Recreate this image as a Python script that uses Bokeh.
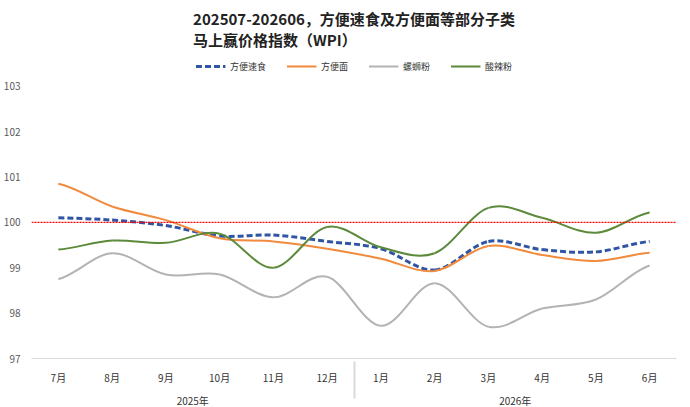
from bokeh.plotting import figure
from bokeh.models import FactorRange, Range1d, Span, Legend, LegendItem, FixedTicker
from bokeh.embed import file_html
from bokeh.resources import INLINE

years = ["2025年"]*6 + ["2026年"]*6
months = ["7月","8月","9月","10月","11月","12月","1月","2月","3月","4月","5月","6月"]
s_fbss = [100.1, 100.05, 99.93, 99.7, 99.72, 99.58, 99.42, 98.95, 99.58, 99.4, 99.35, 99.58]
s_fbm = [100.85, 100.35, 100.05, 99.65, 99.58, 99.42, 99.2, 98.93, 99.48, 99.28, 99.15, 99.33]
s_lsf = [98.75, 99.32, 98.85, 98.85, 98.35, 98.8, 97.72, 98.66, 97.7, 98.1, 98.3, 99.05]
s_slf = [99.4, 99.6, 99.55, 99.75, 99.0, 99.9, 99.45, 99.32, 100.32, 100.1, 99.77, 100.22]

factors = list(zip(years, months))
F = "Noto Sans CJK SC"
p = figure(output_backend="svg", toolbar_location=None, frame_width=645, frame_height=304,
           x_range=FactorRange(*factors, group_padding=0, factor_padding=0, range_padding=0),
           y_range=Range1d(97, 103.7), min_border_top=0, min_border_left=27, min_border_right=2,
           min_border_bottom=0)
p.title.text = "202507-202606，方便速食及方便面等部分子类\n马上赢价格指数（WPI）"
p.title.align = "center"; p.title.text_font = F; p.title.text_font_size = "15px"
p.title.text_font_style = "bold"; p.title.text_color = "#222222"
p.yaxis.ticker = FixedTicker(ticks=[97, 98, 99, 100, 101, 102, 103])
p.ygrid.grid_line_color = None; p.xgrid.grid_line_color = None
p.yaxis.axis_line_color = None; p.yaxis.major_tick_line_color = None
p.yaxis.minor_tick_line_color = None
p.xaxis.major_tick_line_color = None
p.xaxis.axis_line_color = "#d9d9d9"
p.axis.major_label_text_font = F; p.axis.major_label_text_font_size = "10px"
p.xaxis.group_text_font = F; p.xaxis.group_text_font_size = "10px"
p.xaxis.group_text_font_style = "normal"
p.xaxis.group_text_color = "#333333"; p.xaxis.separator_line_color = "#d9d9d9"
p.xaxis.major_label_text_color = "#333333"
p.outline_line_color = None
p.yaxis.major_label_text_color = "#595959"

p.add_layout(Span(location=100, dimension="width", line_color="red", line_width=1.2, line_dash="2 1"))

xs = [i + 0.5 for i in range(12)]
def smooth(ys, **kw):
    x0, y0, x1, y1, cx0, cy0, cx1, cy1 = [], [], [], [], [], [], [], []
    n = len(ys)
    for i in range(n-1):
        ym = ys[i-1] if i > 0 else ys[i]
        yp = ys[i+2] if i+2 < n else ys[i+1]
        x0.append(xs[i]); y0.append(ys[i]); x1.append(xs[i+1]); y1.append(ys[i+1])
        cx0.append(xs[i] + 1/3); cy0.append(ys[i] + (ys[i+1]-ym)/6)
        cx1.append(xs[i+1] - 1/3); cy1.append(ys[i+1] - (yp-ys[i])/6)
    return p.bezier(x0=x0, y0=y0, x1=x1, y1=y1, cx0=cx0, cy0=cy0, cx1=cx1, cy1=cy1, **kw)

r1 = smooth(s_fbss, line_color="#2f55a4", line_width=3, line_dash="6 3")
r2 = smooth(s_fbm, line_color="#f08a3c", line_width=2)
r3 = smooth(s_lsf, line_color="#b3b3b3", line_width=2)
r4 = smooth(s_slf, line_color="#5b8a3a", line_width=2)
leg = Legend(items=[LegendItem(label="方便速食", renderers=[r1]), LegendItem(label="方便面", renderers=[r2]),
                    LegendItem(label="螺蛳粉", renderers=[r3]), LegendItem(label="酸辣粉", renderers=[r4])],
             orientation="horizontal", location="top_center", label_text_font=F, label_text_font_size="9px",
             label_text_color="#333333",
             border_line_color=None, background_fill_alpha=0, glyph_width=30, spacing=20, padding=0, margin=2)
p.add_layout(leg, "center")
open("out.html", "w").write(file_html(p, INLINE))
